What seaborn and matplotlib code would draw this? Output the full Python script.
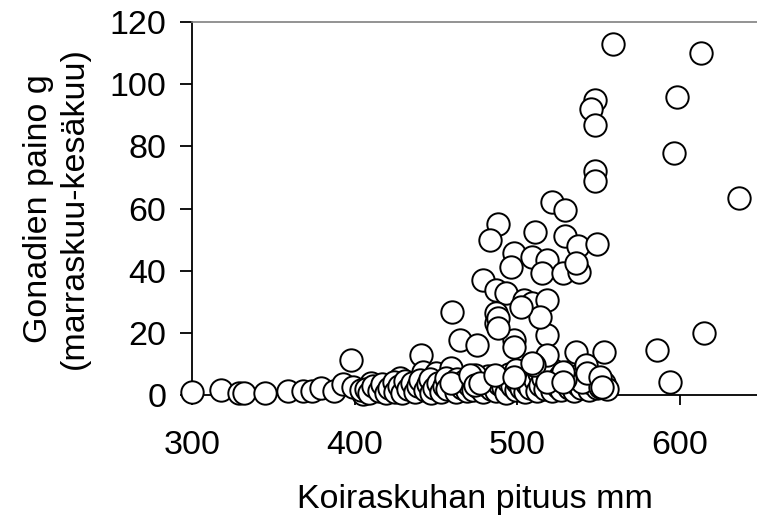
import matplotlib
matplotlib.use("Agg")
import matplotlib.pyplot as plt
import seaborn as sns
import pandas as pd

# ==============================
# DATA
# ==============================
# sparse small fish on the left
pituus_pienet = [300, 318, 329, 332, 345, 359, 368, 374, 379, 387, 393, 398, 399, 405,
                 410, 413, 418, 423, 428, 430, 434, 438, 441, 442, 448, 450, 459, 459]
paino_pienet = [1.0, 1.5, 0.8, 0.7, 0.7, 1.3, 1.4, 1.3, 2.3, 1.4, 3.6, 11.3, 2.6, 0.3,
                3.8, 2.5, 2.8, 3.3, 5.4, 3.8, 2.6, 1.2, 12.9, 7.5, 2.6, 7.0, 8.6, 2.5]

# large gonads
pituus_isot = [559, 613, 548, 545, 548, 598, 596, 548, 548, 636, 521, 529, 488, 483,
               511, 529, 537, 549, 498, 496, 509, 518, 515, 528, 538, 536, 479, 487,
               493, 504, 509, 518, 514, 502, 487, 487, 460, 488, 488]
paino_isot = [113, 110, 95, 92, 87, 96, 78, 72, 69, 63.5, 62, 59.5, 55, 50,
              52.5, 51, 48, 48.6, 45.6, 41.3, 44.5, 43.4, 39.1, 39.1, 39.7, 42.4, 37, 33.8,
              32.7, 30.6, 29.5, 30.6, 25.2, 28.4, 26.3, 23.2, 26.8, 24.7, 21.4]

# middle band
pituus_keski = [465, 475, 498, 498, 518, 518, 510, 536, 553, 586, 615, 594, 540, 551,
                529, 542, 528, 543, 551, 552, 499, 474, 518, 459, 471, 474, 477, 486,
                498, 509, 528]
paino_keski = [17.7, 16.1, 17.7, 15.3, 19.3, 12.9, 9.7, 13.9, 13.9, 14.5, 20, 4.3, 4.3, 2.7,
               5.0, 9.7, 7.5, 7.0, 5.9, 2.7, 8.0, 6.4, 4.3, 3.8, 6.5, 3.2, 4.0, 6.5,
               5.9, 10.2, 4.3]

# dense cluster near zero
pituus_pohja = [404, 407, 409, 411, 415, 417, 419, 421, 424, 425, 427, 429, 431, 433, 435,
                437, 439, 440, 443, 445, 446, 447, 449, 451, 453, 455, 456, 457, 461, 462,
                463, 466, 467, 469, 470, 472, 473, 476, 478, 479, 481, 482, 484, 485, 487,
                489, 490, 491, 493, 494, 495, 497, 499, 500, 501, 502, 503, 505, 506, 507,
                508, 511, 512, 513, 514, 516, 517, 519, 520, 521, 522, 523, 525, 526, 527,
                530, 531, 532, 534, 535, 537, 538, 539, 541, 544, 545, 547, 549, 553, 555]
paino_pohja = [1.5, 2.0, 0.8, 2.8, 1.2, 3.5, 0.6, 2.1, 4.2, 1.0, 2.8, 0.5, 4.6, 1.8, 3.9,
               0.9, 2.9, 4.8, 1.6, 3.4, 5.2, 0.7, 2.2, 4.0, 1.1, 3.0, 5.6, 1.9, 3.6, 0.9,
               5.0, 2.4, 4.4, 1.3, 3.1, 5.8, 1.7, 2.6, 4.8, 0.9, 3.3, 6.2, 2.0, 4.1, 1.2,
               3.7, 5.5, 2.5, 0.8, 4.5, 6.8, 2.9, 1.5, 4.2, 7.5, 2.4, 5.3, 1.1, 3.6, 6.0,
               2.2, 4.8, 1.4, 7.2, 3.1, 5.4, 2.0, 6.6, 3.5, 1.3, 8.0, 4.4, 2.6, 6.1, 1.6,
               3.8, 7.4, 2.3, 5.1, 1.2, 3.3, 6.4, 2.1, 4.7, 1.5, 3.9, 5.7, 2.4, 4.0, 1.8]

x_ticks = [300, 400, 500, 600]
y_ticks = [0, 20, 40, 60, 80, 100, 120]

df = pd.DataFrame({
    "pituus": pituus_pienet + pituus_pohja + pituus_keski + pituus_isot,
    "paino": paino_pienet + paino_pohja + paino_keski + paino_isot,
})

# ==============================
# PLOT
# ==============================
sns.set_style("white")
plt.rcParams["font.family"] = ["Liberation Sans", "DejaVu Sans"]
plt.rcParams["text.color"] = "black"
plt.rcParams["axes.labelcolor"] = "black"

FS = 24.5

fig = plt.figure(figsize=(7.57, 5.21), dpi=100)
ax = fig.add_axes([0.2536, 0.2418, 0.7464, 0.716])

sns.scatterplot(data=df, x="pituus", y="paino", ax=ax, s=260,
                color="white", edgecolor="black", linewidth=1.4,
                clip_on=False, zorder=3, legend=False)

ax.set_xlim(300, 647.3)
ax.set_ylim(0, 120)
ax.set_xticks(x_ticks)
ax.set_yticks(y_ticks)

ax.spines["right"].set_visible(False)
ax.spines["top"].set_color("#808080")
ax.spines["top"].set_linewidth(1.2)
for side in ["left", "bottom"]:
    ax.spines[side].set_color("black")
    ax.spines[side].set_linewidth(1.3)

ax.tick_params(axis="y", direction="out", length=8.5, width=1.3, pad=10,
               labelsize=FS, colors="black", left=True)
ax.tick_params(axis="x", direction="out", length=7.5, width=1.3, pad=18,
               labelsize=FS, colors="black", bottom=True)

ax.set_xlabel("Koiraskuhan pituus mm", fontsize=FS, labelpad=16)
ax.set_ylabel("Gonadien paino g\n(marraskuu-kesäkuu)", fontsize=FS, labelpad=14)

fig.savefig("out.png", dpi=100)
